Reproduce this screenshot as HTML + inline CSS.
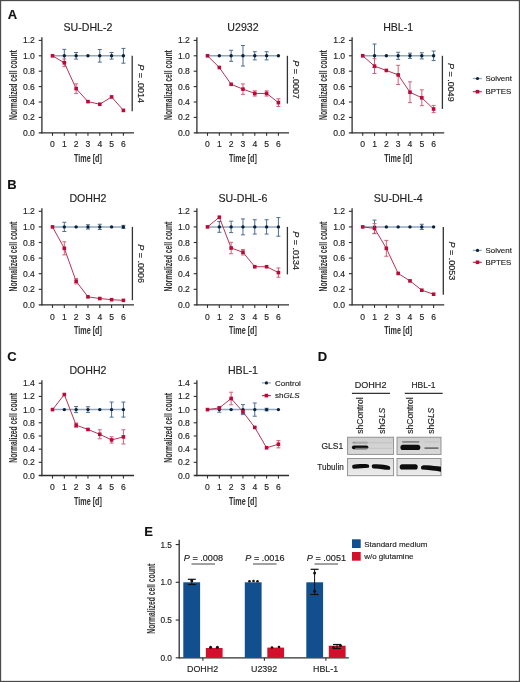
<!DOCTYPE html>
<html><head><meta charset="utf-8"><style>
html,body{margin:0;padding:0;background:#fff;}
body{width:520px;height:682px;overflow:hidden;font-family:"Liberation Sans",sans-serif;}
svg{display:block;will-change:transform;}
text{stroke:#2a2a2a;stroke-width:0.15px;paint-order:stroke;}
</style></head><body>
<svg width="520" height="682" viewBox="0 0 520 682" font-family="Liberation Sans, sans-serif">
<rect x="0" y="0" width="520" height="682" fill="#fff"/>
<text x="7.7" y="18.5" font-size="13" text-anchor="start" fill="#111" font-weight="bold" >A</text>
<text x="7.2" y="189.4" font-size="13" text-anchor="start" fill="#111" font-weight="bold" >B</text>
<text x="7.2" y="361.1" font-size="13" text-anchor="start" fill="#111" font-weight="bold" >C</text>
<text x="317.8" y="361" font-size="13" text-anchor="start" fill="#111" font-weight="bold" >D</text>
<text x="144.3" y="535.8" font-size="13" text-anchor="start" fill="#111" font-weight="bold" >E</text>
<line x1="41.9" y1="37.3" x2="41.9" y2="133.45" stroke="#2e2e2e" stroke-width="1.3" />
<line x1="38.7" y1="132.8" x2="134.02" y2="132.8" stroke="#2e2e2e" stroke-width="1.3" />
<text x="34.9" y="135.8" font-size="8.6" text-anchor="end" fill="#222" >0.0</text>
<line x1="38.7" y1="117.4" x2="41.9" y2="117.4" stroke="#2e2e2e" stroke-width="1.1" />
<text x="34.9" y="120.4" font-size="8.6" text-anchor="end" fill="#222" >0.2</text>
<line x1="38.7" y1="102" x2="41.9" y2="102" stroke="#2e2e2e" stroke-width="1.1" />
<text x="34.9" y="105" font-size="8.6" text-anchor="end" fill="#222" >0.4</text>
<line x1="38.7" y1="86.6" x2="41.9" y2="86.6" stroke="#2e2e2e" stroke-width="1.1" />
<text x="34.9" y="89.6" font-size="8.6" text-anchor="end" fill="#222" >0.6</text>
<line x1="38.7" y1="71.2" x2="41.9" y2="71.2" stroke="#2e2e2e" stroke-width="1.1" />
<text x="34.9" y="74.2" font-size="8.6" text-anchor="end" fill="#222" >0.8</text>
<line x1="38.7" y1="55.8" x2="41.9" y2="55.8" stroke="#2e2e2e" stroke-width="1.1" />
<text x="34.9" y="58.8" font-size="8.6" text-anchor="end" fill="#222" >1.0</text>
<line x1="38.7" y1="40.4" x2="41.9" y2="40.4" stroke="#2e2e2e" stroke-width="1.1" />
<text x="34.9" y="43.4" font-size="8.6" text-anchor="end" fill="#222" >1.2</text>
<line x1="52.5" y1="132.8" x2="52.5" y2="135.8" stroke="#2e2e2e" stroke-width="1.1" />
<text x="52.5" y="147.4" font-size="8.6" text-anchor="middle" fill="#222" >0</text>
<line x1="64.32" y1="132.8" x2="64.32" y2="135.8" stroke="#2e2e2e" stroke-width="1.1" />
<text x="64.32" y="147.4" font-size="8.6" text-anchor="middle" fill="#222" >1</text>
<line x1="76.14" y1="132.8" x2="76.14" y2="135.8" stroke="#2e2e2e" stroke-width="1.1" />
<text x="76.14" y="147.4" font-size="8.6" text-anchor="middle" fill="#222" >2</text>
<line x1="87.96" y1="132.8" x2="87.96" y2="135.8" stroke="#2e2e2e" stroke-width="1.1" />
<text x="87.96" y="147.4" font-size="8.6" text-anchor="middle" fill="#222" >3</text>
<line x1="99.78" y1="132.8" x2="99.78" y2="135.8" stroke="#2e2e2e" stroke-width="1.1" />
<text x="99.78" y="147.4" font-size="8.6" text-anchor="middle" fill="#222" >4</text>
<line x1="111.6" y1="132.8" x2="111.6" y2="135.8" stroke="#2e2e2e" stroke-width="1.1" />
<text x="111.6" y="147.4" font-size="8.6" text-anchor="middle" fill="#222" >5</text>
<line x1="123.42" y1="132.8" x2="123.42" y2="135.8" stroke="#2e2e2e" stroke-width="1.1" />
<text x="123.42" y="147.4" font-size="8.6" text-anchor="middle" fill="#222" >6</text>
<text transform="translate(87.96,161.9) scale(0.721,1)" font-size="10" font-weight="bold" text-anchor="middle" fill="#333" style="stroke-width:0.05px">Time [d]</text>
<text transform="translate(16.6,85.05) rotate(-90) scale(0.677,1)" font-size="10" font-weight="bold" text-anchor="middle" fill="#333" style="stroke-width:0.05px">Normalized cell count</text>
<text x="87.96" y="31.1" font-size="10.6" text-anchor="middle" fill="#222" >SU-DHL-2</text>
<polyline points="52.5,55.8 64.32,55.8 76.14,55.8 87.96,55.8 99.78,55.8 111.6,55.8 123.42,55.8" fill="none" stroke="#8ea8bf" stroke-width="1.5"/>
<line x1="64.32" y1="49.33" x2="64.32" y2="62.27" stroke="#4a6e92" stroke-width="1" />
<line x1="62.32" y1="49.33" x2="66.32" y2="49.33" stroke="#4a6e92" stroke-width="1" />
<line x1="62.32" y1="62.27" x2="66.32" y2="62.27" stroke="#4a6e92" stroke-width="1" />
<line x1="76.14" y1="52.49" x2="76.14" y2="59.11" stroke="#4a6e92" stroke-width="1" />
<line x1="74.14" y1="52.49" x2="78.14" y2="52.49" stroke="#4a6e92" stroke-width="1" />
<line x1="74.14" y1="59.11" x2="78.14" y2="59.11" stroke="#4a6e92" stroke-width="1" />
<line x1="99.78" y1="49.49" x2="99.78" y2="62.11" stroke="#4a6e92" stroke-width="1" />
<line x1="97.78" y1="49.49" x2="101.78" y2="49.49" stroke="#4a6e92" stroke-width="1" />
<line x1="97.78" y1="62.11" x2="101.78" y2="62.11" stroke="#4a6e92" stroke-width="1" />
<line x1="111.6" y1="52.49" x2="111.6" y2="59.11" stroke="#4a6e92" stroke-width="1" />
<line x1="109.6" y1="52.49" x2="113.6" y2="52.49" stroke="#4a6e92" stroke-width="1" />
<line x1="109.6" y1="59.11" x2="113.6" y2="59.11" stroke="#4a6e92" stroke-width="1" />
<line x1="123.42" y1="48.41" x2="123.42" y2="63.19" stroke="#4a6e92" stroke-width="1" />
<line x1="121.42" y1="48.41" x2="125.42" y2="48.41" stroke="#4a6e92" stroke-width="1" />
<line x1="121.42" y1="63.19" x2="125.42" y2="63.19" stroke="#4a6e92" stroke-width="1" />
<circle cx="64.32" cy="55.8" r="1.7" fill="#0b1f38"/>
<circle cx="76.14" cy="55.8" r="1.7" fill="#0b1f38"/>
<circle cx="87.96" cy="55.8" r="1.7" fill="#0b1f38"/>
<circle cx="99.78" cy="55.8" r="1.7" fill="#0b1f38"/>
<circle cx="111.6" cy="55.8" r="1.7" fill="#0b1f38"/>
<circle cx="123.42" cy="55.8" r="1.7" fill="#0b1f38"/>
<polyline points="52.5,55.8 64.32,62.81 76.14,88.6 87.96,101.62 99.78,104.23 111.6,96.92 123.42,110.39" fill="none" stroke="#b02a4c" stroke-width="0.95"/>
<line x1="64.32" y1="58.96" x2="64.32" y2="66.66" stroke="#d2607a" stroke-width="1" />
<line x1="62.32" y1="58.96" x2="66.32" y2="58.96" stroke="#d2607a" stroke-width="1" />
<line x1="62.32" y1="66.66" x2="66.32" y2="66.66" stroke="#d2607a" stroke-width="1" />
<line x1="76.14" y1="83.83" x2="76.14" y2="93.38" stroke="#d2607a" stroke-width="1" />
<line x1="74.14" y1="83.83" x2="78.14" y2="83.83" stroke="#d2607a" stroke-width="1" />
<line x1="74.14" y1="93.38" x2="78.14" y2="93.38" stroke="#d2607a" stroke-width="1" />
<rect x="50.7" y="54" width="3.6" height="3.6" fill="#bb0a3a"/>
<rect x="62.52" y="61.01" width="3.6" height="3.6" fill="#bb0a3a"/>
<rect x="74.34" y="86.8" width="3.6" height="3.6" fill="#bb0a3a"/>
<rect x="86.16" y="99.82" width="3.6" height="3.6" fill="#bb0a3a"/>
<rect x="97.98" y="102.43" width="3.6" height="3.6" fill="#bb0a3a"/>
<rect x="109.8" y="95.12" width="3.6" height="3.6" fill="#bb0a3a"/>
<rect x="121.62" y="108.59" width="3.6" height="3.6" fill="#bb0a3a"/>
<line x1="132.2" y1="55.8" x2="132.2" y2="111.3" stroke="#333" stroke-width="1.3" />
<text transform="translate(137.8,83.55) rotate(90)" font-size="8.2" text-anchor="middle" fill="#222" textLength="38.7" lengthAdjust="spacingAndGlyphs"><tspan font-style="italic">P</tspan> = .0014</text>
<line x1="196.9" y1="37.3" x2="196.9" y2="133.45" stroke="#2e2e2e" stroke-width="1.3" />
<line x1="193.7" y1="132.8" x2="289.02" y2="132.8" stroke="#2e2e2e" stroke-width="1.3" />
<text x="189.9" y="135.8" font-size="8.6" text-anchor="end" fill="#222" >0.0</text>
<line x1="193.7" y1="117.4" x2="196.9" y2="117.4" stroke="#2e2e2e" stroke-width="1.1" />
<text x="189.9" y="120.4" font-size="8.6" text-anchor="end" fill="#222" >0.2</text>
<line x1="193.7" y1="102" x2="196.9" y2="102" stroke="#2e2e2e" stroke-width="1.1" />
<text x="189.9" y="105" font-size="8.6" text-anchor="end" fill="#222" >0.4</text>
<line x1="193.7" y1="86.6" x2="196.9" y2="86.6" stroke="#2e2e2e" stroke-width="1.1" />
<text x="189.9" y="89.6" font-size="8.6" text-anchor="end" fill="#222" >0.6</text>
<line x1="193.7" y1="71.2" x2="196.9" y2="71.2" stroke="#2e2e2e" stroke-width="1.1" />
<text x="189.9" y="74.2" font-size="8.6" text-anchor="end" fill="#222" >0.8</text>
<line x1="193.7" y1="55.8" x2="196.9" y2="55.8" stroke="#2e2e2e" stroke-width="1.1" />
<text x="189.9" y="58.8" font-size="8.6" text-anchor="end" fill="#222" >1.0</text>
<line x1="193.7" y1="40.4" x2="196.9" y2="40.4" stroke="#2e2e2e" stroke-width="1.1" />
<text x="189.9" y="43.4" font-size="8.6" text-anchor="end" fill="#222" >1.2</text>
<line x1="207.5" y1="132.8" x2="207.5" y2="135.8" stroke="#2e2e2e" stroke-width="1.1" />
<text x="207.5" y="147.4" font-size="8.6" text-anchor="middle" fill="#222" >0</text>
<line x1="219.32" y1="132.8" x2="219.32" y2="135.8" stroke="#2e2e2e" stroke-width="1.1" />
<text x="219.32" y="147.4" font-size="8.6" text-anchor="middle" fill="#222" >1</text>
<line x1="231.14" y1="132.8" x2="231.14" y2="135.8" stroke="#2e2e2e" stroke-width="1.1" />
<text x="231.14" y="147.4" font-size="8.6" text-anchor="middle" fill="#222" >2</text>
<line x1="242.96" y1="132.8" x2="242.96" y2="135.8" stroke="#2e2e2e" stroke-width="1.1" />
<text x="242.96" y="147.4" font-size="8.6" text-anchor="middle" fill="#222" >3</text>
<line x1="254.78" y1="132.8" x2="254.78" y2="135.8" stroke="#2e2e2e" stroke-width="1.1" />
<text x="254.78" y="147.4" font-size="8.6" text-anchor="middle" fill="#222" >4</text>
<line x1="266.6" y1="132.8" x2="266.6" y2="135.8" stroke="#2e2e2e" stroke-width="1.1" />
<text x="266.6" y="147.4" font-size="8.6" text-anchor="middle" fill="#222" >5</text>
<line x1="278.42" y1="132.8" x2="278.42" y2="135.8" stroke="#2e2e2e" stroke-width="1.1" />
<text x="278.42" y="147.4" font-size="8.6" text-anchor="middle" fill="#222" >6</text>
<text transform="translate(242.96,161.9) scale(0.721,1)" font-size="10" font-weight="bold" text-anchor="middle" fill="#333" style="stroke-width:0.05px">Time [d]</text>
<text transform="translate(171.6,85.05) rotate(-90) scale(0.677,1)" font-size="10" font-weight="bold" text-anchor="middle" fill="#333" style="stroke-width:0.05px">Normalized cell count</text>
<text x="242.96" y="31.1" font-size="10.6" text-anchor="middle" fill="#222" >U2932</text>
<polyline points="207.5,55.8 219.32,55.8 231.14,55.8 242.96,55.8 254.78,55.8 266.6,55.8 278.42,55.8" fill="none" stroke="#8ea8bf" stroke-width="1.5"/>
<line x1="231.14" y1="50.26" x2="231.14" y2="61.34" stroke="#4a6e92" stroke-width="1" />
<line x1="229.14" y1="50.26" x2="233.14" y2="50.26" stroke="#4a6e92" stroke-width="1" />
<line x1="229.14" y1="61.34" x2="233.14" y2="61.34" stroke="#4a6e92" stroke-width="1" />
<line x1="242.96" y1="45.56" x2="242.96" y2="66.04" stroke="#4a6e92" stroke-width="1" />
<line x1="240.96" y1="45.56" x2="244.96" y2="45.56" stroke="#4a6e92" stroke-width="1" />
<line x1="240.96" y1="66.04" x2="244.96" y2="66.04" stroke="#4a6e92" stroke-width="1" />
<line x1="254.78" y1="51.72" x2="254.78" y2="59.88" stroke="#4a6e92" stroke-width="1" />
<line x1="252.78" y1="51.72" x2="256.78" y2="51.72" stroke="#4a6e92" stroke-width="1" />
<line x1="252.78" y1="59.88" x2="256.78" y2="59.88" stroke="#4a6e92" stroke-width="1" />
<line x1="266.6" y1="51.72" x2="266.6" y2="59.88" stroke="#4a6e92" stroke-width="1" />
<line x1="264.6" y1="51.72" x2="268.6" y2="51.72" stroke="#4a6e92" stroke-width="1" />
<line x1="264.6" y1="59.88" x2="268.6" y2="59.88" stroke="#4a6e92" stroke-width="1" />
<circle cx="219.32" cy="55.8" r="1.7" fill="#0b1f38"/>
<circle cx="231.14" cy="55.8" r="1.7" fill="#0b1f38"/>
<circle cx="242.96" cy="55.8" r="1.7" fill="#0b1f38"/>
<circle cx="254.78" cy="55.8" r="1.7" fill="#0b1f38"/>
<circle cx="266.6" cy="55.8" r="1.7" fill="#0b1f38"/>
<circle cx="278.42" cy="55.8" r="1.7" fill="#0b1f38"/>
<polyline points="207.5,55.8 219.32,67.5 231.14,84.29 242.96,89.14 254.78,93.45 266.6,93.45 278.42,102.62" fill="none" stroke="#b02a4c" stroke-width="0.95"/>
<line x1="242.96" y1="83.91" x2="242.96" y2="94.38" stroke="#d2607a" stroke-width="1" />
<line x1="240.96" y1="83.91" x2="244.96" y2="83.91" stroke="#d2607a" stroke-width="1" />
<line x1="240.96" y1="94.38" x2="244.96" y2="94.38" stroke="#d2607a" stroke-width="1" />
<line x1="254.78" y1="90.84" x2="254.78" y2="96.07" stroke="#d2607a" stroke-width="1" />
<line x1="252.78" y1="90.84" x2="256.78" y2="90.84" stroke="#d2607a" stroke-width="1" />
<line x1="252.78" y1="96.07" x2="256.78" y2="96.07" stroke="#d2607a" stroke-width="1" />
<line x1="266.6" y1="90.84" x2="266.6" y2="96.07" stroke="#d2607a" stroke-width="1" />
<line x1="264.6" y1="90.84" x2="268.6" y2="90.84" stroke="#d2607a" stroke-width="1" />
<line x1="264.6" y1="96.07" x2="268.6" y2="96.07" stroke="#d2607a" stroke-width="1" />
<line x1="278.42" y1="98.77" x2="278.42" y2="106.47" stroke="#d2607a" stroke-width="1" />
<line x1="276.42" y1="98.77" x2="280.42" y2="98.77" stroke="#d2607a" stroke-width="1" />
<line x1="276.42" y1="106.47" x2="280.42" y2="106.47" stroke="#d2607a" stroke-width="1" />
<rect x="205.7" y="54" width="3.6" height="3.6" fill="#bb0a3a"/>
<rect x="217.52" y="65.7" width="3.6" height="3.6" fill="#bb0a3a"/>
<rect x="229.34" y="82.49" width="3.6" height="3.6" fill="#bb0a3a"/>
<rect x="241.16" y="87.34" width="3.6" height="3.6" fill="#bb0a3a"/>
<rect x="252.98" y="91.65" width="3.6" height="3.6" fill="#bb0a3a"/>
<rect x="264.8" y="91.65" width="3.6" height="3.6" fill="#bb0a3a"/>
<rect x="276.62" y="100.82" width="3.6" height="3.6" fill="#bb0a3a"/>
<line x1="287.4" y1="55.8" x2="287.4" y2="103.6" stroke="#333" stroke-width="1.3" />
<text transform="translate(293,79.7) rotate(90)" font-size="8.2" text-anchor="middle" fill="#222" textLength="38.7" lengthAdjust="spacingAndGlyphs"><tspan font-style="italic">P</tspan> = .0007</text>
<line x1="352.1" y1="37.3" x2="352.1" y2="133.45" stroke="#2e2e2e" stroke-width="1.3" />
<line x1="348.9" y1="132.8" x2="444.22" y2="132.8" stroke="#2e2e2e" stroke-width="1.3" />
<text x="345.1" y="135.8" font-size="8.6" text-anchor="end" fill="#222" >0.0</text>
<line x1="348.9" y1="117.4" x2="352.1" y2="117.4" stroke="#2e2e2e" stroke-width="1.1" />
<text x="345.1" y="120.4" font-size="8.6" text-anchor="end" fill="#222" >0.2</text>
<line x1="348.9" y1="102" x2="352.1" y2="102" stroke="#2e2e2e" stroke-width="1.1" />
<text x="345.1" y="105" font-size="8.6" text-anchor="end" fill="#222" >0.4</text>
<line x1="348.9" y1="86.6" x2="352.1" y2="86.6" stroke="#2e2e2e" stroke-width="1.1" />
<text x="345.1" y="89.6" font-size="8.6" text-anchor="end" fill="#222" >0.6</text>
<line x1="348.9" y1="71.2" x2="352.1" y2="71.2" stroke="#2e2e2e" stroke-width="1.1" />
<text x="345.1" y="74.2" font-size="8.6" text-anchor="end" fill="#222" >0.8</text>
<line x1="348.9" y1="55.8" x2="352.1" y2="55.8" stroke="#2e2e2e" stroke-width="1.1" />
<text x="345.1" y="58.8" font-size="8.6" text-anchor="end" fill="#222" >1.0</text>
<line x1="348.9" y1="40.4" x2="352.1" y2="40.4" stroke="#2e2e2e" stroke-width="1.1" />
<text x="345.1" y="43.4" font-size="8.6" text-anchor="end" fill="#222" >1.2</text>
<line x1="362.7" y1="132.8" x2="362.7" y2="135.8" stroke="#2e2e2e" stroke-width="1.1" />
<text x="362.7" y="147.4" font-size="8.6" text-anchor="middle" fill="#222" >0</text>
<line x1="374.52" y1="132.8" x2="374.52" y2="135.8" stroke="#2e2e2e" stroke-width="1.1" />
<text x="374.52" y="147.4" font-size="8.6" text-anchor="middle" fill="#222" >1</text>
<line x1="386.34" y1="132.8" x2="386.34" y2="135.8" stroke="#2e2e2e" stroke-width="1.1" />
<text x="386.34" y="147.4" font-size="8.6" text-anchor="middle" fill="#222" >2</text>
<line x1="398.16" y1="132.8" x2="398.16" y2="135.8" stroke="#2e2e2e" stroke-width="1.1" />
<text x="398.16" y="147.4" font-size="8.6" text-anchor="middle" fill="#222" >3</text>
<line x1="409.98" y1="132.8" x2="409.98" y2="135.8" stroke="#2e2e2e" stroke-width="1.1" />
<text x="409.98" y="147.4" font-size="8.6" text-anchor="middle" fill="#222" >4</text>
<line x1="421.8" y1="132.8" x2="421.8" y2="135.8" stroke="#2e2e2e" stroke-width="1.1" />
<text x="421.8" y="147.4" font-size="8.6" text-anchor="middle" fill="#222" >5</text>
<line x1="433.62" y1="132.8" x2="433.62" y2="135.8" stroke="#2e2e2e" stroke-width="1.1" />
<text x="433.62" y="147.4" font-size="8.6" text-anchor="middle" fill="#222" >6</text>
<text transform="translate(398.16,161.9) scale(0.721,1)" font-size="10" font-weight="bold" text-anchor="middle" fill="#333" style="stroke-width:0.05px">Time [d]</text>
<text transform="translate(326.8,85.05) rotate(-90) scale(0.677,1)" font-size="10" font-weight="bold" text-anchor="middle" fill="#333" style="stroke-width:0.05px">Normalized cell count</text>
<text x="398.16" y="31.1" font-size="10.6" text-anchor="middle" fill="#222" >HBL-1</text>
<polyline points="362.7,55.8 374.52,55.8 386.34,55.8 398.16,55.8 409.98,55.8 421.8,55.8 433.62,55.8" fill="none" stroke="#8ea8bf" stroke-width="1.5"/>
<line x1="374.52" y1="44.02" x2="374.52" y2="67.58" stroke="#4a6e92" stroke-width="1" />
<line x1="372.52" y1="44.02" x2="376.52" y2="44.02" stroke="#4a6e92" stroke-width="1" />
<line x1="372.52" y1="67.58" x2="376.52" y2="67.58" stroke="#4a6e92" stroke-width="1" />
<line x1="398.16" y1="52.26" x2="398.16" y2="59.34" stroke="#4a6e92" stroke-width="1" />
<line x1="396.16" y1="52.26" x2="400.16" y2="52.26" stroke="#4a6e92" stroke-width="1" />
<line x1="396.16" y1="59.34" x2="400.16" y2="59.34" stroke="#4a6e92" stroke-width="1" />
<line x1="409.98" y1="53.18" x2="409.98" y2="58.42" stroke="#4a6e92" stroke-width="1" />
<line x1="407.98" y1="53.18" x2="411.98" y2="53.18" stroke="#4a6e92" stroke-width="1" />
<line x1="407.98" y1="58.42" x2="411.98" y2="58.42" stroke="#4a6e92" stroke-width="1" />
<line x1="421.8" y1="52.72" x2="421.8" y2="58.88" stroke="#4a6e92" stroke-width="1" />
<line x1="419.8" y1="52.72" x2="423.8" y2="52.72" stroke="#4a6e92" stroke-width="1" />
<line x1="419.8" y1="58.88" x2="423.8" y2="58.88" stroke="#4a6e92" stroke-width="1" />
<line x1="433.62" y1="51.03" x2="433.62" y2="60.57" stroke="#4a6e92" stroke-width="1" />
<line x1="431.62" y1="51.03" x2="435.62" y2="51.03" stroke="#4a6e92" stroke-width="1" />
<line x1="431.62" y1="60.57" x2="435.62" y2="60.57" stroke="#4a6e92" stroke-width="1" />
<circle cx="374.52" cy="55.8" r="1.7" fill="#0b1f38"/>
<circle cx="386.34" cy="55.8" r="1.7" fill="#0b1f38"/>
<circle cx="398.16" cy="55.8" r="1.7" fill="#0b1f38"/>
<circle cx="409.98" cy="55.8" r="1.7" fill="#0b1f38"/>
<circle cx="421.8" cy="55.8" r="1.7" fill="#0b1f38"/>
<circle cx="433.62" cy="55.8" r="1.7" fill="#0b1f38"/>
<polyline points="362.7,55.8 374.52,66.12 386.34,70.43 398.16,74.9 409.98,92.22 421.8,97.77 433.62,109.01" fill="none" stroke="#b02a4c" stroke-width="0.95"/>
<line x1="374.52" y1="58.73" x2="374.52" y2="73.51" stroke="#d2607a" stroke-width="1" />
<line x1="372.52" y1="58.73" x2="376.52" y2="58.73" stroke="#d2607a" stroke-width="1" />
<line x1="372.52" y1="73.51" x2="376.52" y2="73.51" stroke="#d2607a" stroke-width="1" />
<line x1="398.16" y1="65.27" x2="398.16" y2="84.52" stroke="#d2607a" stroke-width="1" />
<line x1="396.16" y1="65.27" x2="400.16" y2="65.27" stroke="#d2607a" stroke-width="1" />
<line x1="396.16" y1="84.52" x2="400.16" y2="84.52" stroke="#d2607a" stroke-width="1" />
<line x1="409.98" y1="81.83" x2="409.98" y2="102.62" stroke="#d2607a" stroke-width="1" />
<line x1="407.98" y1="81.83" x2="411.98" y2="81.83" stroke="#d2607a" stroke-width="1" />
<line x1="407.98" y1="102.62" x2="411.98" y2="102.62" stroke="#d2607a" stroke-width="1" />
<line x1="421.8" y1="89.83" x2="421.8" y2="105.7" stroke="#d2607a" stroke-width="1" />
<line x1="419.8" y1="89.83" x2="423.8" y2="89.83" stroke="#d2607a" stroke-width="1" />
<line x1="419.8" y1="105.7" x2="423.8" y2="105.7" stroke="#d2607a" stroke-width="1" />
<line x1="433.62" y1="105.39" x2="433.62" y2="112.63" stroke="#d2607a" stroke-width="1" />
<line x1="431.62" y1="105.39" x2="435.62" y2="105.39" stroke="#d2607a" stroke-width="1" />
<line x1="431.62" y1="112.63" x2="435.62" y2="112.63" stroke="#d2607a" stroke-width="1" />
<rect x="360.9" y="54" width="3.6" height="3.6" fill="#bb0a3a"/>
<rect x="372.72" y="64.32" width="3.6" height="3.6" fill="#bb0a3a"/>
<rect x="384.54" y="68.63" width="3.6" height="3.6" fill="#bb0a3a"/>
<rect x="396.36" y="73.1" width="3.6" height="3.6" fill="#bb0a3a"/>
<rect x="408.18" y="90.42" width="3.6" height="3.6" fill="#bb0a3a"/>
<rect x="420" y="95.97" width="3.6" height="3.6" fill="#bb0a3a"/>
<rect x="431.82" y="107.21" width="3.6" height="3.6" fill="#bb0a3a"/>
<line x1="442.4" y1="55.8" x2="442.4" y2="108.9" stroke="#333" stroke-width="1.3" />
<text transform="translate(448,82.35) rotate(90)" font-size="8.2" text-anchor="middle" fill="#222" textLength="38.7" lengthAdjust="spacingAndGlyphs"><tspan font-style="italic">P</tspan> = .0049</text>
<line x1="472.8" y1="78.5" x2="481.8" y2="78.5" stroke="#8ea8bf" stroke-width="1.3" />
<circle cx="477.5" cy="78.5" r="1.6" fill="#0b1f38"/>
<line x1="472.8" y1="91.7" x2="481.8" y2="91.7" stroke="#b02a4c" stroke-width="1.1" />
<rect x="475.7" y="89.9" width="3.6" height="3.6" fill="#bb0a3a"/>
<text x="485.5" y="81.2" font-size="7.9" text-anchor="start" fill="#222" >Solvent</text>
<text x="485.5" y="94.4" font-size="7.9" text-anchor="start" fill="#222" >BPTES</text>
<line x1="41.9" y1="208.2" x2="41.9" y2="305.55" stroke="#2e2e2e" stroke-width="1.3" />
<line x1="38.7" y1="304.9" x2="134.02" y2="304.9" stroke="#2e2e2e" stroke-width="1.3" />
<text x="34.9" y="307.9" font-size="8.6" text-anchor="end" fill="#222" >0.0</text>
<line x1="38.7" y1="289.3" x2="41.9" y2="289.3" stroke="#2e2e2e" stroke-width="1.1" />
<text x="34.9" y="292.3" font-size="8.6" text-anchor="end" fill="#222" >0.2</text>
<line x1="38.7" y1="273.7" x2="41.9" y2="273.7" stroke="#2e2e2e" stroke-width="1.1" />
<text x="34.9" y="276.7" font-size="8.6" text-anchor="end" fill="#222" >0.4</text>
<line x1="38.7" y1="258.1" x2="41.9" y2="258.1" stroke="#2e2e2e" stroke-width="1.1" />
<text x="34.9" y="261.1" font-size="8.6" text-anchor="end" fill="#222" >0.6</text>
<line x1="38.7" y1="242.5" x2="41.9" y2="242.5" stroke="#2e2e2e" stroke-width="1.1" />
<text x="34.9" y="245.5" font-size="8.6" text-anchor="end" fill="#222" >0.8</text>
<line x1="38.7" y1="226.9" x2="41.9" y2="226.9" stroke="#2e2e2e" stroke-width="1.1" />
<text x="34.9" y="229.9" font-size="8.6" text-anchor="end" fill="#222" >1.0</text>
<line x1="38.7" y1="211.3" x2="41.9" y2="211.3" stroke="#2e2e2e" stroke-width="1.1" />
<text x="34.9" y="214.3" font-size="8.6" text-anchor="end" fill="#222" >1.2</text>
<line x1="52.5" y1="304.9" x2="52.5" y2="307.9" stroke="#2e2e2e" stroke-width="1.1" />
<text x="52.5" y="319.5" font-size="8.6" text-anchor="middle" fill="#222" >0</text>
<line x1="64.32" y1="304.9" x2="64.32" y2="307.9" stroke="#2e2e2e" stroke-width="1.1" />
<text x="64.32" y="319.5" font-size="8.6" text-anchor="middle" fill="#222" >1</text>
<line x1="76.14" y1="304.9" x2="76.14" y2="307.9" stroke="#2e2e2e" stroke-width="1.1" />
<text x="76.14" y="319.5" font-size="8.6" text-anchor="middle" fill="#222" >2</text>
<line x1="87.96" y1="304.9" x2="87.96" y2="307.9" stroke="#2e2e2e" stroke-width="1.1" />
<text x="87.96" y="319.5" font-size="8.6" text-anchor="middle" fill="#222" >3</text>
<line x1="99.78" y1="304.9" x2="99.78" y2="307.9" stroke="#2e2e2e" stroke-width="1.1" />
<text x="99.78" y="319.5" font-size="8.6" text-anchor="middle" fill="#222" >4</text>
<line x1="111.6" y1="304.9" x2="111.6" y2="307.9" stroke="#2e2e2e" stroke-width="1.1" />
<text x="111.6" y="319.5" font-size="8.6" text-anchor="middle" fill="#222" >5</text>
<line x1="123.42" y1="304.9" x2="123.42" y2="307.9" stroke="#2e2e2e" stroke-width="1.1" />
<text x="123.42" y="319.5" font-size="8.6" text-anchor="middle" fill="#222" >6</text>
<text transform="translate(87.96,334) scale(0.721,1)" font-size="10" font-weight="bold" text-anchor="middle" fill="#333" style="stroke-width:0.05px">Time [d]</text>
<text transform="translate(16.6,256.55) rotate(-90) scale(0.677,1)" font-size="10" font-weight="bold" text-anchor="middle" fill="#333" style="stroke-width:0.05px">Normalized cell count</text>
<text x="87.96" y="202" font-size="10.6" text-anchor="middle" fill="#222" >DOHH2</text>
<polyline points="52.5,226.9 64.32,226.9 76.14,226.9 87.96,226.9 99.78,226.9 111.6,226.9 123.42,226.9" fill="none" stroke="#8ea8bf" stroke-width="1.5"/>
<line x1="64.32" y1="222.28" x2="64.32" y2="231.52" stroke="#4a6e92" stroke-width="1" />
<line x1="62.32" y1="222.28" x2="66.32" y2="222.28" stroke="#4a6e92" stroke-width="1" />
<line x1="62.32" y1="231.52" x2="66.32" y2="231.52" stroke="#4a6e92" stroke-width="1" />
<line x1="87.96" y1="224.74" x2="87.96" y2="229.06" stroke="#4a6e92" stroke-width="1" />
<line x1="85.96" y1="224.74" x2="89.96" y2="224.74" stroke="#4a6e92" stroke-width="1" />
<line x1="85.96" y1="229.06" x2="89.96" y2="229.06" stroke="#4a6e92" stroke-width="1" />
<line x1="99.78" y1="224.28" x2="99.78" y2="229.52" stroke="#4a6e92" stroke-width="1" />
<line x1="97.78" y1="224.28" x2="101.78" y2="224.28" stroke="#4a6e92" stroke-width="1" />
<line x1="97.78" y1="229.52" x2="101.78" y2="229.52" stroke="#4a6e92" stroke-width="1" />
<line x1="123.42" y1="225.36" x2="123.42" y2="228.44" stroke="#4a6e92" stroke-width="1" />
<line x1="121.42" y1="225.36" x2="125.42" y2="225.36" stroke="#4a6e92" stroke-width="1" />
<line x1="121.42" y1="228.44" x2="125.42" y2="228.44" stroke="#4a6e92" stroke-width="1" />
<circle cx="64.32" cy="226.9" r="1.7" fill="#0b1f38"/>
<circle cx="76.14" cy="226.9" r="1.7" fill="#0b1f38"/>
<circle cx="87.96" cy="226.9" r="1.7" fill="#0b1f38"/>
<circle cx="99.78" cy="226.9" r="1.7" fill="#0b1f38"/>
<circle cx="111.6" cy="226.9" r="1.7" fill="#0b1f38"/>
<circle cx="123.42" cy="226.9" r="1.7" fill="#0b1f38"/>
<polyline points="52.5,226.9 64.32,248.33 76.14,281.21 87.96,296.84 99.78,298.53 111.6,299.69 123.42,300.38" fill="none" stroke="#b02a4c" stroke-width="0.95"/>
<line x1="64.32" y1="241.78" x2="64.32" y2="254.87" stroke="#d2607a" stroke-width="1" />
<line x1="62.32" y1="241.78" x2="66.32" y2="241.78" stroke="#d2607a" stroke-width="1" />
<line x1="62.32" y1="254.87" x2="66.32" y2="254.87" stroke="#d2607a" stroke-width="1" />
<line x1="76.14" y1="278.59" x2="76.14" y2="283.83" stroke="#d2607a" stroke-width="1" />
<line x1="74.14" y1="278.59" x2="78.14" y2="278.59" stroke="#d2607a" stroke-width="1" />
<line x1="74.14" y1="283.83" x2="78.14" y2="283.83" stroke="#d2607a" stroke-width="1" />
<rect x="50.7" y="225.1" width="3.6" height="3.6" fill="#bb0a3a"/>
<rect x="62.52" y="246.53" width="3.6" height="3.6" fill="#bb0a3a"/>
<rect x="74.34" y="279.41" width="3.6" height="3.6" fill="#bb0a3a"/>
<rect x="86.16" y="295.04" width="3.6" height="3.6" fill="#bb0a3a"/>
<rect x="97.98" y="296.73" width="3.6" height="3.6" fill="#bb0a3a"/>
<rect x="109.8" y="297.89" width="3.6" height="3.6" fill="#bb0a3a"/>
<rect x="121.62" y="298.58" width="3.6" height="3.6" fill="#bb0a3a"/>
<line x1="132.4" y1="226.9" x2="132.4" y2="300.2" stroke="#333" stroke-width="1.3" />
<text transform="translate(138,263.55) rotate(90)" font-size="8.2" text-anchor="middle" fill="#222" textLength="38.7" lengthAdjust="spacingAndGlyphs"><tspan font-style="italic">P</tspan> = .0006</text>
<line x1="196.9" y1="208.2" x2="196.9" y2="305.55" stroke="#2e2e2e" stroke-width="1.3" />
<line x1="193.7" y1="304.9" x2="289.02" y2="304.9" stroke="#2e2e2e" stroke-width="1.3" />
<text x="189.9" y="307.9" font-size="8.6" text-anchor="end" fill="#222" >0.0</text>
<line x1="193.7" y1="289.3" x2="196.9" y2="289.3" stroke="#2e2e2e" stroke-width="1.1" />
<text x="189.9" y="292.3" font-size="8.6" text-anchor="end" fill="#222" >0.2</text>
<line x1="193.7" y1="273.7" x2="196.9" y2="273.7" stroke="#2e2e2e" stroke-width="1.1" />
<text x="189.9" y="276.7" font-size="8.6" text-anchor="end" fill="#222" >0.4</text>
<line x1="193.7" y1="258.1" x2="196.9" y2="258.1" stroke="#2e2e2e" stroke-width="1.1" />
<text x="189.9" y="261.1" font-size="8.6" text-anchor="end" fill="#222" >0.6</text>
<line x1="193.7" y1="242.5" x2="196.9" y2="242.5" stroke="#2e2e2e" stroke-width="1.1" />
<text x="189.9" y="245.5" font-size="8.6" text-anchor="end" fill="#222" >0.8</text>
<line x1="193.7" y1="226.9" x2="196.9" y2="226.9" stroke="#2e2e2e" stroke-width="1.1" />
<text x="189.9" y="229.9" font-size="8.6" text-anchor="end" fill="#222" >1.0</text>
<line x1="193.7" y1="211.3" x2="196.9" y2="211.3" stroke="#2e2e2e" stroke-width="1.1" />
<text x="189.9" y="214.3" font-size="8.6" text-anchor="end" fill="#222" >1.2</text>
<line x1="207.5" y1="304.9" x2="207.5" y2="307.9" stroke="#2e2e2e" stroke-width="1.1" />
<text x="207.5" y="319.5" font-size="8.6" text-anchor="middle" fill="#222" >0</text>
<line x1="219.32" y1="304.9" x2="219.32" y2="307.9" stroke="#2e2e2e" stroke-width="1.1" />
<text x="219.32" y="319.5" font-size="8.6" text-anchor="middle" fill="#222" >1</text>
<line x1="231.14" y1="304.9" x2="231.14" y2="307.9" stroke="#2e2e2e" stroke-width="1.1" />
<text x="231.14" y="319.5" font-size="8.6" text-anchor="middle" fill="#222" >2</text>
<line x1="242.96" y1="304.9" x2="242.96" y2="307.9" stroke="#2e2e2e" stroke-width="1.1" />
<text x="242.96" y="319.5" font-size="8.6" text-anchor="middle" fill="#222" >3</text>
<line x1="254.78" y1="304.9" x2="254.78" y2="307.9" stroke="#2e2e2e" stroke-width="1.1" />
<text x="254.78" y="319.5" font-size="8.6" text-anchor="middle" fill="#222" >4</text>
<line x1="266.6" y1="304.9" x2="266.6" y2="307.9" stroke="#2e2e2e" stroke-width="1.1" />
<text x="266.6" y="319.5" font-size="8.6" text-anchor="middle" fill="#222" >5</text>
<line x1="278.42" y1="304.9" x2="278.42" y2="307.9" stroke="#2e2e2e" stroke-width="1.1" />
<text x="278.42" y="319.5" font-size="8.6" text-anchor="middle" fill="#222" >6</text>
<text transform="translate(242.96,334) scale(0.721,1)" font-size="10" font-weight="bold" text-anchor="middle" fill="#333" style="stroke-width:0.05px">Time [d]</text>
<text transform="translate(171.6,256.55) rotate(-90) scale(0.677,1)" font-size="10" font-weight="bold" text-anchor="middle" fill="#333" style="stroke-width:0.05px">Normalized cell count</text>
<text x="242.96" y="202" font-size="10.6" text-anchor="middle" fill="#222" >SU-DHL-6</text>
<polyline points="207.5,226.9 219.32,226.9 231.14,226.9 242.96,226.9 254.78,226.9 266.6,226.9 278.42,226.9" fill="none" stroke="#8ea8bf" stroke-width="1.5"/>
<line x1="219.32" y1="221.51" x2="219.32" y2="232.29" stroke="#4a6e92" stroke-width="1" />
<line x1="217.32" y1="221.51" x2="221.32" y2="221.51" stroke="#4a6e92" stroke-width="1" />
<line x1="217.32" y1="232.29" x2="221.32" y2="232.29" stroke="#4a6e92" stroke-width="1" />
<line x1="231.14" y1="221.2" x2="231.14" y2="232.6" stroke="#4a6e92" stroke-width="1" />
<line x1="229.14" y1="221.2" x2="233.14" y2="221.2" stroke="#4a6e92" stroke-width="1" />
<line x1="229.14" y1="232.6" x2="233.14" y2="232.6" stroke="#4a6e92" stroke-width="1" />
<line x1="242.96" y1="218.97" x2="242.96" y2="234.83" stroke="#4a6e92" stroke-width="1" />
<line x1="240.96" y1="218.97" x2="244.96" y2="218.97" stroke="#4a6e92" stroke-width="1" />
<line x1="240.96" y1="234.83" x2="244.96" y2="234.83" stroke="#4a6e92" stroke-width="1" />
<line x1="254.78" y1="219.74" x2="254.78" y2="234.06" stroke="#4a6e92" stroke-width="1" />
<line x1="252.78" y1="219.74" x2="256.78" y2="219.74" stroke="#4a6e92" stroke-width="1" />
<line x1="252.78" y1="234.06" x2="256.78" y2="234.06" stroke="#4a6e92" stroke-width="1" />
<line x1="266.6" y1="219.74" x2="266.6" y2="234.06" stroke="#4a6e92" stroke-width="1" />
<line x1="264.6" y1="219.74" x2="268.6" y2="219.74" stroke="#4a6e92" stroke-width="1" />
<line x1="264.6" y1="234.06" x2="268.6" y2="234.06" stroke="#4a6e92" stroke-width="1" />
<line x1="278.42" y1="217.58" x2="278.42" y2="236.22" stroke="#4a6e92" stroke-width="1" />
<line x1="276.42" y1="217.58" x2="280.42" y2="217.58" stroke="#4a6e92" stroke-width="1" />
<line x1="276.42" y1="236.22" x2="280.42" y2="236.22" stroke="#4a6e92" stroke-width="1" />
<circle cx="219.32" cy="226.9" r="1.7" fill="#0b1f38"/>
<circle cx="231.14" cy="226.9" r="1.7" fill="#0b1f38"/>
<circle cx="242.96" cy="226.9" r="1.7" fill="#0b1f38"/>
<circle cx="254.78" cy="226.9" r="1.7" fill="#0b1f38"/>
<circle cx="266.6" cy="226.9" r="1.7" fill="#0b1f38"/>
<circle cx="278.42" cy="226.9" r="1.7" fill="#0b1f38"/>
<polyline points="207.5,226.9 219.32,217.22 231.14,248.02 242.96,252.26 254.78,266.73 266.6,266.73 278.42,272.58" fill="none" stroke="#b02a4c" stroke-width="0.95"/>
<line x1="231.14" y1="242.32" x2="231.14" y2="253.72" stroke="#d2607a" stroke-width="1" />
<line x1="229.14" y1="242.32" x2="233.14" y2="242.32" stroke="#d2607a" stroke-width="1" />
<line x1="229.14" y1="253.72" x2="233.14" y2="253.72" stroke="#d2607a" stroke-width="1" />
<line x1="242.96" y1="249.56" x2="242.96" y2="254.95" stroke="#d2607a" stroke-width="1" />
<line x1="240.96" y1="249.56" x2="244.96" y2="249.56" stroke="#d2607a" stroke-width="1" />
<line x1="240.96" y1="254.95" x2="244.96" y2="254.95" stroke="#d2607a" stroke-width="1" />
<line x1="278.42" y1="267.96" x2="278.42" y2="277.2" stroke="#d2607a" stroke-width="1" />
<line x1="276.42" y1="267.96" x2="280.42" y2="267.96" stroke="#d2607a" stroke-width="1" />
<line x1="276.42" y1="277.2" x2="280.42" y2="277.2" stroke="#d2607a" stroke-width="1" />
<rect x="205.7" y="225.1" width="3.6" height="3.6" fill="#bb0a3a"/>
<rect x="217.52" y="215.42" width="3.6" height="3.6" fill="#bb0a3a"/>
<rect x="229.34" y="246.22" width="3.6" height="3.6" fill="#bb0a3a"/>
<rect x="241.16" y="250.46" width="3.6" height="3.6" fill="#bb0a3a"/>
<rect x="252.98" y="264.93" width="3.6" height="3.6" fill="#bb0a3a"/>
<rect x="264.8" y="264.93" width="3.6" height="3.6" fill="#bb0a3a"/>
<rect x="276.62" y="270.78" width="3.6" height="3.6" fill="#bb0a3a"/>
<line x1="287.4" y1="226.9" x2="287.4" y2="274.4" stroke="#333" stroke-width="1.3" />
<text transform="translate(293,250.65) rotate(90)" font-size="8.2" text-anchor="middle" fill="#222" textLength="38.7" lengthAdjust="spacingAndGlyphs"><tspan font-style="italic">P</tspan> = .0134</text>
<line x1="352.1" y1="208.2" x2="352.1" y2="305.55" stroke="#2e2e2e" stroke-width="1.3" />
<line x1="348.9" y1="304.9" x2="444.22" y2="304.9" stroke="#2e2e2e" stroke-width="1.3" />
<text x="345.1" y="307.9" font-size="8.6" text-anchor="end" fill="#222" >0.0</text>
<line x1="348.9" y1="289.3" x2="352.1" y2="289.3" stroke="#2e2e2e" stroke-width="1.1" />
<text x="345.1" y="292.3" font-size="8.6" text-anchor="end" fill="#222" >0.2</text>
<line x1="348.9" y1="273.7" x2="352.1" y2="273.7" stroke="#2e2e2e" stroke-width="1.1" />
<text x="345.1" y="276.7" font-size="8.6" text-anchor="end" fill="#222" >0.4</text>
<line x1="348.9" y1="258.1" x2="352.1" y2="258.1" stroke="#2e2e2e" stroke-width="1.1" />
<text x="345.1" y="261.1" font-size="8.6" text-anchor="end" fill="#222" >0.6</text>
<line x1="348.9" y1="242.5" x2="352.1" y2="242.5" stroke="#2e2e2e" stroke-width="1.1" />
<text x="345.1" y="245.5" font-size="8.6" text-anchor="end" fill="#222" >0.8</text>
<line x1="348.9" y1="226.9" x2="352.1" y2="226.9" stroke="#2e2e2e" stroke-width="1.1" />
<text x="345.1" y="229.9" font-size="8.6" text-anchor="end" fill="#222" >1.0</text>
<line x1="348.9" y1="211.3" x2="352.1" y2="211.3" stroke="#2e2e2e" stroke-width="1.1" />
<text x="345.1" y="214.3" font-size="8.6" text-anchor="end" fill="#222" >1.2</text>
<line x1="362.7" y1="304.9" x2="362.7" y2="307.9" stroke="#2e2e2e" stroke-width="1.1" />
<text x="362.7" y="319.5" font-size="8.6" text-anchor="middle" fill="#222" >0</text>
<line x1="374.52" y1="304.9" x2="374.52" y2="307.9" stroke="#2e2e2e" stroke-width="1.1" />
<text x="374.52" y="319.5" font-size="8.6" text-anchor="middle" fill="#222" >1</text>
<line x1="386.34" y1="304.9" x2="386.34" y2="307.9" stroke="#2e2e2e" stroke-width="1.1" />
<text x="386.34" y="319.5" font-size="8.6" text-anchor="middle" fill="#222" >2</text>
<line x1="398.16" y1="304.9" x2="398.16" y2="307.9" stroke="#2e2e2e" stroke-width="1.1" />
<text x="398.16" y="319.5" font-size="8.6" text-anchor="middle" fill="#222" >3</text>
<line x1="409.98" y1="304.9" x2="409.98" y2="307.9" stroke="#2e2e2e" stroke-width="1.1" />
<text x="409.98" y="319.5" font-size="8.6" text-anchor="middle" fill="#222" >4</text>
<line x1="421.8" y1="304.9" x2="421.8" y2="307.9" stroke="#2e2e2e" stroke-width="1.1" />
<text x="421.8" y="319.5" font-size="8.6" text-anchor="middle" fill="#222" >5</text>
<line x1="433.62" y1="304.9" x2="433.62" y2="307.9" stroke="#2e2e2e" stroke-width="1.1" />
<text x="433.62" y="319.5" font-size="8.6" text-anchor="middle" fill="#222" >6</text>
<text transform="translate(398.16,334) scale(0.721,1)" font-size="10" font-weight="bold" text-anchor="middle" fill="#333" style="stroke-width:0.05px">Time [d]</text>
<text transform="translate(326.8,256.55) rotate(-90) scale(0.677,1)" font-size="10" font-weight="bold" text-anchor="middle" fill="#333" style="stroke-width:0.05px">Normalized cell count</text>
<text x="398.16" y="202" font-size="10.6" text-anchor="middle" fill="#222" >SU-DHL-4</text>
<polyline points="362.7,226.9 374.52,226.9 386.34,226.9 398.16,226.9 409.98,226.9 421.8,226.9 433.62,226.9" fill="none" stroke="#8ea8bf" stroke-width="1.5"/>
<line x1="374.52" y1="220.12" x2="374.52" y2="233.68" stroke="#4a6e92" stroke-width="1" />
<line x1="372.52" y1="220.12" x2="376.52" y2="220.12" stroke="#4a6e92" stroke-width="1" />
<line x1="372.52" y1="233.68" x2="376.52" y2="233.68" stroke="#4a6e92" stroke-width="1" />
<line x1="421.8" y1="224.28" x2="421.8" y2="229.52" stroke="#4a6e92" stroke-width="1" />
<line x1="419.8" y1="224.28" x2="423.8" y2="224.28" stroke="#4a6e92" stroke-width="1" />
<line x1="419.8" y1="229.52" x2="423.8" y2="229.52" stroke="#4a6e92" stroke-width="1" />
<circle cx="374.52" cy="226.9" r="1.7" fill="#0b1f38"/>
<circle cx="386.34" cy="226.9" r="1.7" fill="#0b1f38"/>
<circle cx="398.16" cy="226.9" r="1.7" fill="#0b1f38"/>
<circle cx="409.98" cy="226.9" r="1.7" fill="#0b1f38"/>
<circle cx="421.8" cy="226.9" r="1.7" fill="#0b1f38"/>
<circle cx="433.62" cy="226.9" r="1.7" fill="#0b1f38"/>
<polyline points="362.7,226.9 374.52,228.39 386.34,248.33 398.16,273.43 409.98,280.9 421.8,290.22 433.62,294.22" fill="none" stroke="#b02a4c" stroke-width="0.95"/>
<line x1="374.52" y1="223.61" x2="374.52" y2="233.16" stroke="#d2607a" stroke-width="1" />
<line x1="372.52" y1="223.61" x2="376.52" y2="223.61" stroke="#d2607a" stroke-width="1" />
<line x1="372.52" y1="233.16" x2="376.52" y2="233.16" stroke="#d2607a" stroke-width="1" />
<line x1="386.34" y1="240.4" x2="386.34" y2="256.26" stroke="#d2607a" stroke-width="1" />
<line x1="384.34" y1="240.4" x2="388.34" y2="240.4" stroke="#d2607a" stroke-width="1" />
<line x1="384.34" y1="256.26" x2="388.34" y2="256.26" stroke="#d2607a" stroke-width="1" />
<rect x="360.9" y="225.1" width="3.6" height="3.6" fill="#bb0a3a"/>
<rect x="372.72" y="226.59" width="3.6" height="3.6" fill="#bb0a3a"/>
<rect x="384.54" y="246.53" width="3.6" height="3.6" fill="#bb0a3a"/>
<rect x="396.36" y="271.63" width="3.6" height="3.6" fill="#bb0a3a"/>
<rect x="408.18" y="279.1" width="3.6" height="3.6" fill="#bb0a3a"/>
<rect x="420" y="288.42" width="3.6" height="3.6" fill="#bb0a3a"/>
<rect x="431.82" y="292.42" width="3.6" height="3.6" fill="#bb0a3a"/>
<line x1="443.3" y1="226.9" x2="443.3" y2="294.8" stroke="#333" stroke-width="1.3" />
<text transform="translate(448.9,260.85) rotate(90)" font-size="8.2" text-anchor="middle" fill="#222" textLength="38.7" lengthAdjust="spacingAndGlyphs"><tspan font-style="italic">P</tspan> = .0053</text>
<line x1="472.8" y1="250.4" x2="481.8" y2="250.4" stroke="#8ea8bf" stroke-width="1.3" />
<circle cx="477.5" cy="250.4" r="1.6" fill="#0b1f38"/>
<line x1="472.8" y1="262.3" x2="481.8" y2="262.3" stroke="#b02a4c" stroke-width="1.1" />
<rect x="475.7" y="260.5" width="3.6" height="3.6" fill="#bb0a3a"/>
<text x="485.5" y="253.1" font-size="7.9" text-anchor="start" fill="#222" >Solvent</text>
<text x="485.5" y="265" font-size="7.9" text-anchor="start" fill="#222" >BPTES</text>
<line x1="41.9" y1="380.14" x2="41.9" y2="476.15" stroke="#2e2e2e" stroke-width="1.3" />
<line x1="38.7" y1="475.5" x2="134.02" y2="475.5" stroke="#2e2e2e" stroke-width="1.3" />
<text x="34.9" y="478.5" font-size="8.6" text-anchor="end" fill="#222" >0.0</text>
<line x1="38.7" y1="462.32" x2="41.9" y2="462.32" stroke="#2e2e2e" stroke-width="1.1" />
<text x="34.9" y="465.32" font-size="8.6" text-anchor="end" fill="#222" >0.2</text>
<line x1="38.7" y1="449.14" x2="41.9" y2="449.14" stroke="#2e2e2e" stroke-width="1.1" />
<text x="34.9" y="452.14" font-size="8.6" text-anchor="end" fill="#222" >0.4</text>
<line x1="38.7" y1="435.96" x2="41.9" y2="435.96" stroke="#2e2e2e" stroke-width="1.1" />
<text x="34.9" y="438.96" font-size="8.6" text-anchor="end" fill="#222" >0.6</text>
<line x1="38.7" y1="422.78" x2="41.9" y2="422.78" stroke="#2e2e2e" stroke-width="1.1" />
<text x="34.9" y="425.78" font-size="8.6" text-anchor="end" fill="#222" >0.8</text>
<line x1="38.7" y1="409.6" x2="41.9" y2="409.6" stroke="#2e2e2e" stroke-width="1.1" />
<text x="34.9" y="412.6" font-size="8.6" text-anchor="end" fill="#222" >1.0</text>
<line x1="38.7" y1="396.42" x2="41.9" y2="396.42" stroke="#2e2e2e" stroke-width="1.1" />
<text x="34.9" y="399.42" font-size="8.6" text-anchor="end" fill="#222" >1.2</text>
<line x1="38.7" y1="383.24" x2="41.9" y2="383.24" stroke="#2e2e2e" stroke-width="1.1" />
<text x="34.9" y="386.24" font-size="8.6" text-anchor="end" fill="#222" >1.4</text>
<line x1="52.5" y1="475.5" x2="52.5" y2="478.5" stroke="#2e2e2e" stroke-width="1.1" />
<text x="52.5" y="490.1" font-size="8.6" text-anchor="middle" fill="#222" >0</text>
<line x1="64.32" y1="475.5" x2="64.32" y2="478.5" stroke="#2e2e2e" stroke-width="1.1" />
<text x="64.32" y="490.1" font-size="8.6" text-anchor="middle" fill="#222" >1</text>
<line x1="76.14" y1="475.5" x2="76.14" y2="478.5" stroke="#2e2e2e" stroke-width="1.1" />
<text x="76.14" y="490.1" font-size="8.6" text-anchor="middle" fill="#222" >2</text>
<line x1="87.96" y1="475.5" x2="87.96" y2="478.5" stroke="#2e2e2e" stroke-width="1.1" />
<text x="87.96" y="490.1" font-size="8.6" text-anchor="middle" fill="#222" >3</text>
<line x1="99.78" y1="475.5" x2="99.78" y2="478.5" stroke="#2e2e2e" stroke-width="1.1" />
<text x="99.78" y="490.1" font-size="8.6" text-anchor="middle" fill="#222" >4</text>
<line x1="111.6" y1="475.5" x2="111.6" y2="478.5" stroke="#2e2e2e" stroke-width="1.1" />
<text x="111.6" y="490.1" font-size="8.6" text-anchor="middle" fill="#222" >5</text>
<line x1="123.42" y1="475.5" x2="123.42" y2="478.5" stroke="#2e2e2e" stroke-width="1.1" />
<text x="123.42" y="490.1" font-size="8.6" text-anchor="middle" fill="#222" >6</text>
<text transform="translate(87.96,504.6) scale(0.721,1)" font-size="10" font-weight="bold" text-anchor="middle" fill="#333" style="stroke-width:0.05px">Time [d]</text>
<text transform="translate(16.6,427.82) rotate(-90) scale(0.677,1)" font-size="10" font-weight="bold" text-anchor="middle" fill="#333" style="stroke-width:0.05px">Normalized cell count</text>
<text x="87.96" y="373.94" font-size="10.6" text-anchor="middle" fill="#222" >DOHH2</text>
<polyline points="52.5,409.6 64.32,409.6 76.14,409.6 87.96,409.6 99.78,409.6 111.6,409.6 123.42,409.6" fill="none" stroke="#8ea8bf" stroke-width="1.5"/>
<line x1="76.14" y1="406.56" x2="76.14" y2="412.64" stroke="#4a6e92" stroke-width="1" />
<line x1="74.14" y1="406.56" x2="78.14" y2="406.56" stroke="#4a6e92" stroke-width="1" />
<line x1="74.14" y1="412.64" x2="78.14" y2="412.64" stroke="#4a6e92" stroke-width="1" />
<line x1="87.96" y1="406.76" x2="87.96" y2="412.44" stroke="#4a6e92" stroke-width="1" />
<line x1="85.96" y1="406.76" x2="89.96" y2="406.76" stroke="#4a6e92" stroke-width="1" />
<line x1="85.96" y1="412.44" x2="89.96" y2="412.44" stroke="#4a6e92" stroke-width="1" />
<line x1="111.6" y1="402.07" x2="111.6" y2="417.13" stroke="#4a6e92" stroke-width="1" />
<line x1="109.6" y1="402.07" x2="113.6" y2="402.07" stroke="#4a6e92" stroke-width="1" />
<line x1="109.6" y1="417.13" x2="113.6" y2="417.13" stroke="#4a6e92" stroke-width="1" />
<line x1="123.42" y1="402.07" x2="123.42" y2="417.13" stroke="#4a6e92" stroke-width="1" />
<line x1="121.42" y1="402.07" x2="125.42" y2="402.07" stroke="#4a6e92" stroke-width="1" />
<line x1="121.42" y1="417.13" x2="125.42" y2="417.13" stroke="#4a6e92" stroke-width="1" />
<circle cx="64.32" cy="409.6" r="1.7" fill="#0b1f38"/>
<circle cx="76.14" cy="409.6" r="1.7" fill="#0b1f38"/>
<circle cx="87.96" cy="409.6" r="1.7" fill="#0b1f38"/>
<circle cx="99.78" cy="409.6" r="1.7" fill="#0b1f38"/>
<circle cx="111.6" cy="409.6" r="1.7" fill="#0b1f38"/>
<circle cx="123.42" cy="409.6" r="1.7" fill="#0b1f38"/>
<polyline points="52.5,409.6 64.32,394.53 76.14,425.18 87.96,429.48 99.78,434.3 111.6,439.92 123.42,436.88" fill="none" stroke="#b02a4c" stroke-width="0.95"/>
<line x1="76.14" y1="423" x2="76.14" y2="427.36" stroke="#d2607a" stroke-width="1" />
<line x1="74.14" y1="423" x2="78.14" y2="423" stroke="#d2607a" stroke-width="1" />
<line x1="74.14" y1="427.36" x2="78.14" y2="427.36" stroke="#d2607a" stroke-width="1" />
<line x1="99.78" y1="429.81" x2="99.78" y2="438.79" stroke="#d2607a" stroke-width="1" />
<line x1="97.78" y1="429.81" x2="101.78" y2="429.81" stroke="#d2607a" stroke-width="1" />
<line x1="97.78" y1="438.79" x2="101.78" y2="438.79" stroke="#d2607a" stroke-width="1" />
<line x1="111.6" y1="436.75" x2="111.6" y2="443.09" stroke="#d2607a" stroke-width="1" />
<line x1="109.6" y1="436.75" x2="113.6" y2="436.75" stroke="#d2607a" stroke-width="1" />
<line x1="109.6" y1="443.09" x2="113.6" y2="443.09" stroke="#d2607a" stroke-width="1" />
<line x1="123.42" y1="429.81" x2="123.42" y2="443.95" stroke="#d2607a" stroke-width="1" />
<line x1="121.42" y1="429.81" x2="125.42" y2="429.81" stroke="#d2607a" stroke-width="1" />
<line x1="121.42" y1="443.95" x2="125.42" y2="443.95" stroke="#d2607a" stroke-width="1" />
<rect x="50.7" y="407.8" width="3.6" height="3.6" fill="#bb0a3a"/>
<rect x="62.52" y="392.73" width="3.6" height="3.6" fill="#bb0a3a"/>
<rect x="74.34" y="423.38" width="3.6" height="3.6" fill="#bb0a3a"/>
<rect x="86.16" y="427.68" width="3.6" height="3.6" fill="#bb0a3a"/>
<rect x="97.98" y="432.5" width="3.6" height="3.6" fill="#bb0a3a"/>
<rect x="109.8" y="438.12" width="3.6" height="3.6" fill="#bb0a3a"/>
<rect x="121.62" y="435.08" width="3.6" height="3.6" fill="#bb0a3a"/>
<line x1="196.9" y1="380.14" x2="196.9" y2="476.15" stroke="#2e2e2e" stroke-width="1.3" />
<line x1="193.7" y1="475.5" x2="289.02" y2="475.5" stroke="#2e2e2e" stroke-width="1.3" />
<text x="189.9" y="478.5" font-size="8.6" text-anchor="end" fill="#222" >0.0</text>
<line x1="193.7" y1="462.32" x2="196.9" y2="462.32" stroke="#2e2e2e" stroke-width="1.1" />
<text x="189.9" y="465.32" font-size="8.6" text-anchor="end" fill="#222" >0.2</text>
<line x1="193.7" y1="449.14" x2="196.9" y2="449.14" stroke="#2e2e2e" stroke-width="1.1" />
<text x="189.9" y="452.14" font-size="8.6" text-anchor="end" fill="#222" >0.4</text>
<line x1="193.7" y1="435.96" x2="196.9" y2="435.96" stroke="#2e2e2e" stroke-width="1.1" />
<text x="189.9" y="438.96" font-size="8.6" text-anchor="end" fill="#222" >0.6</text>
<line x1="193.7" y1="422.78" x2="196.9" y2="422.78" stroke="#2e2e2e" stroke-width="1.1" />
<text x="189.9" y="425.78" font-size="8.6" text-anchor="end" fill="#222" >0.8</text>
<line x1="193.7" y1="409.6" x2="196.9" y2="409.6" stroke="#2e2e2e" stroke-width="1.1" />
<text x="189.9" y="412.6" font-size="8.6" text-anchor="end" fill="#222" >1.0</text>
<line x1="193.7" y1="396.42" x2="196.9" y2="396.42" stroke="#2e2e2e" stroke-width="1.1" />
<text x="189.9" y="399.42" font-size="8.6" text-anchor="end" fill="#222" >1.2</text>
<line x1="193.7" y1="383.24" x2="196.9" y2="383.24" stroke="#2e2e2e" stroke-width="1.1" />
<text x="189.9" y="386.24" font-size="8.6" text-anchor="end" fill="#222" >1.4</text>
<line x1="207.5" y1="475.5" x2="207.5" y2="478.5" stroke="#2e2e2e" stroke-width="1.1" />
<text x="207.5" y="490.1" font-size="8.6" text-anchor="middle" fill="#222" >0</text>
<line x1="219.32" y1="475.5" x2="219.32" y2="478.5" stroke="#2e2e2e" stroke-width="1.1" />
<text x="219.32" y="490.1" font-size="8.6" text-anchor="middle" fill="#222" >1</text>
<line x1="231.14" y1="475.5" x2="231.14" y2="478.5" stroke="#2e2e2e" stroke-width="1.1" />
<text x="231.14" y="490.1" font-size="8.6" text-anchor="middle" fill="#222" >2</text>
<line x1="242.96" y1="475.5" x2="242.96" y2="478.5" stroke="#2e2e2e" stroke-width="1.1" />
<text x="242.96" y="490.1" font-size="8.6" text-anchor="middle" fill="#222" >3</text>
<line x1="254.78" y1="475.5" x2="254.78" y2="478.5" stroke="#2e2e2e" stroke-width="1.1" />
<text x="254.78" y="490.1" font-size="8.6" text-anchor="middle" fill="#222" >4</text>
<line x1="266.6" y1="475.5" x2="266.6" y2="478.5" stroke="#2e2e2e" stroke-width="1.1" />
<text x="266.6" y="490.1" font-size="8.6" text-anchor="middle" fill="#222" >5</text>
<line x1="278.42" y1="475.5" x2="278.42" y2="478.5" stroke="#2e2e2e" stroke-width="1.1" />
<text x="278.42" y="490.1" font-size="8.6" text-anchor="middle" fill="#222" >6</text>
<text transform="translate(242.96,504.6) scale(0.721,1)" font-size="10" font-weight="bold" text-anchor="middle" fill="#333" style="stroke-width:0.05px">Time [d]</text>
<text transform="translate(171.6,427.82) rotate(-90) scale(0.677,1)" font-size="10" font-weight="bold" text-anchor="middle" fill="#333" style="stroke-width:0.05px">Normalized cell count</text>
<text x="242.96" y="373.94" font-size="10.6" text-anchor="middle" fill="#222" >HBL-1</text>
<polyline points="207.5,409.6 219.32,409.6 231.14,409.6 242.96,409.6 254.78,409.6 266.6,409.6 278.42,409.6" fill="none" stroke="#8ea8bf" stroke-width="1.5"/>
<line x1="219.32" y1="406.96" x2="219.32" y2="412.24" stroke="#4a6e92" stroke-width="1" />
<line x1="217.32" y1="406.96" x2="221.32" y2="406.96" stroke="#4a6e92" stroke-width="1" />
<line x1="217.32" y1="412.24" x2="221.32" y2="412.24" stroke="#4a6e92" stroke-width="1" />
<line x1="242.96" y1="404.58" x2="242.96" y2="414.62" stroke="#4a6e92" stroke-width="1" />
<line x1="240.96" y1="404.58" x2="244.96" y2="404.58" stroke="#4a6e92" stroke-width="1" />
<line x1="240.96" y1="414.62" x2="244.96" y2="414.62" stroke="#4a6e92" stroke-width="1" />
<line x1="254.78" y1="402.99" x2="254.78" y2="416.21" stroke="#4a6e92" stroke-width="1" />
<line x1="252.78" y1="402.99" x2="256.78" y2="402.99" stroke="#4a6e92" stroke-width="1" />
<line x1="252.78" y1="416.21" x2="256.78" y2="416.21" stroke="#4a6e92" stroke-width="1" />
<line x1="266.6" y1="408.28" x2="266.6" y2="410.92" stroke="#4a6e92" stroke-width="1" />
<line x1="264.6" y1="408.28" x2="268.6" y2="408.28" stroke="#4a6e92" stroke-width="1" />
<line x1="264.6" y1="410.92" x2="268.6" y2="410.92" stroke="#4a6e92" stroke-width="1" />
<circle cx="219.32" cy="409.6" r="1.7" fill="#0b1f38"/>
<circle cx="231.14" cy="409.6" r="1.7" fill="#0b1f38"/>
<circle cx="242.96" cy="409.6" r="1.7" fill="#0b1f38"/>
<circle cx="254.78" cy="409.6" r="1.7" fill="#0b1f38"/>
<circle cx="266.6" cy="409.6" r="1.7" fill="#0b1f38"/>
<circle cx="278.42" cy="409.6" r="1.7" fill="#0b1f38"/>
<polyline points="207.5,409.6 219.32,407.94 231.14,398.49 242.96,411.9 254.78,427.43 266.6,447.78 278.42,444.21" fill="none" stroke="#b02a4c" stroke-width="0.95"/>
<line x1="231.14" y1="392.21" x2="231.14" y2="404.77" stroke="#d2607a" stroke-width="1" />
<line x1="229.14" y1="392.21" x2="233.14" y2="392.21" stroke="#d2607a" stroke-width="1" />
<line x1="229.14" y1="404.77" x2="233.14" y2="404.77" stroke="#d2607a" stroke-width="1" />
<line x1="242.96" y1="410.58" x2="242.96" y2="413.22" stroke="#d2607a" stroke-width="1" />
<line x1="240.96" y1="410.58" x2="244.96" y2="410.58" stroke="#d2607a" stroke-width="1" />
<line x1="240.96" y1="413.22" x2="244.96" y2="413.22" stroke="#d2607a" stroke-width="1" />
<line x1="278.42" y1="440.58" x2="278.42" y2="447.85" stroke="#d2607a" stroke-width="1" />
<line x1="276.42" y1="440.58" x2="280.42" y2="440.58" stroke="#d2607a" stroke-width="1" />
<line x1="276.42" y1="447.85" x2="280.42" y2="447.85" stroke="#d2607a" stroke-width="1" />
<rect x="205.7" y="407.8" width="3.6" height="3.6" fill="#bb0a3a"/>
<rect x="217.52" y="406.14" width="3.6" height="3.6" fill="#bb0a3a"/>
<rect x="229.34" y="396.69" width="3.6" height="3.6" fill="#bb0a3a"/>
<rect x="241.16" y="410.1" width="3.6" height="3.6" fill="#bb0a3a"/>
<rect x="252.98" y="425.63" width="3.6" height="3.6" fill="#bb0a3a"/>
<rect x="264.8" y="445.98" width="3.6" height="3.6" fill="#bb0a3a"/>
<rect x="276.62" y="442.41" width="3.6" height="3.6" fill="#bb0a3a"/>
<line x1="261.9" y1="382.9" x2="270.9" y2="382.9" stroke="#8ea8bf" stroke-width="1.3" />
<circle cx="266.4" cy="382.9" r="1.6" fill="#0b1f38"/>
<line x1="261.9" y1="395.6" x2="270.9" y2="395.6" stroke="#b02a4c" stroke-width="1.1" />
<rect x="264.59999999999997" y="393.8" width="3.6" height="3.6" fill="#bb0a3a"/>
<text x="275.1" y="385.6" font-size="8" text-anchor="start" fill="#222" >Control</text>
<text x="275.1" y="398.3" font-size="8.0" fill="#222">sh<tspan font-style="italic">GLS</tspan></text>
<text x="370.6" y="387.5" font-size="8.5" text-anchor="middle" fill="#222" textLength="31.7" lengthAdjust="spacingAndGlyphs">DOHH2</text>
<text x="423.5" y="387.5" font-size="8.5" text-anchor="middle" fill="#222" textLength="24.1" lengthAdjust="spacingAndGlyphs">HBL-1</text>
<line x1="351.9" y1="393.3" x2="390" y2="393.3" stroke="#333" stroke-width="1.2" />
<line x1="404.8" y1="393.3" x2="442.7" y2="393.3" stroke="#333" stroke-width="1.2" />
<text transform="translate(363,433.7) rotate(-90)" font-size="8.5" fill="#222">shControl</text>
<text transform="translate(385,433.7) rotate(-90)" font-size="8.5" fill="#222">sh<tspan font-style="italic">GLS</tspan></text>
<text transform="translate(413,433.7) rotate(-90)" font-size="8.5" fill="#222">shControl</text>
<text transform="translate(433.7,433.7) rotate(-90)" font-size="8.5" fill="#222">sh<tspan font-style="italic">GLS</tspan></text>
<text x="343.2" y="448.8" font-size="8.5" text-anchor="end" fill="#222">GLS1</text>
<text x="343.8" y="469.6" font-size="8.2" text-anchor="end" fill="#222">Tubulin</text>
<defs><filter id="bl" x="-20%" y="-80%" width="140%" height="260%"><feGaussianBlur stdDeviation="0.6"/></filter><linearGradient id="g1" x1="0" y1="0" x2="0" y2="1"><stop offset="0" stop-color="#cfcfcf"/><stop offset="1" stop-color="#d8d8d8"/></linearGradient><linearGradient id="g2" x1="0" y1="0" x2="0" y2="1"><stop offset="0" stop-color="#dedede"/><stop offset="1" stop-color="#ebebeb"/></linearGradient></defs>
<rect x="347.6" y="437.2" width="46" height="17.2" fill="url(#g1)" stroke="#8a8a8a" stroke-width="0.9"/>
<rect x="347.6" y="458.5" width="46" height="17.2" fill="url(#g2)" stroke="#8a8a8a" stroke-width="0.9"/>
<rect x="397.0" y="437.2" width="44" height="17.2" fill="url(#g1)" stroke="#8a8a8a" stroke-width="0.9"/>
<rect x="397.0" y="458.5" width="44" height="17.2" fill="url(#g2)" stroke="#8a8a8a" stroke-width="0.9"/>
<rect x="352.4" y="441.75" width="15.6" height="1.7" rx="0.85" fill="#8a8a8a" opacity="0.9" filter="url(#bl)"/>
<rect x="351.9" y="445.6" width="16.5" height="3.6" rx="1.8" fill="#111" opacity="1" filter="url(#bl)"/>
<rect x="355" y="442" width="37" height="1.2" rx="0.6" fill="#bcbcbc" opacity="0.6" filter="url(#bl)"/>
<rect x="355" y="447.7" width="37" height="1.2" rx="0.6" fill="#c0c0c0" opacity="0.6" filter="url(#bl)"/>
<rect x="402" y="440.9" width="17.5" height="1.8" rx="0.9" fill="#808080" opacity="0.9" filter="url(#bl)"/>
<rect x="400.4" y="444.8" width="19.9" height="5.2" rx="2.6" fill="#111" opacity="1" filter="url(#bl)"/>
<rect x="424.3" y="447.25" width="14.4" height="1.7" rx="0.85" fill="#5a5a5a" opacity="0.8" filter="url(#bl)"/>
<rect x="424.3" y="441.2" width="14.7" height="1.2" rx="0.6" fill="#bdbdbd" opacity="0.6" filter="url(#bl)"/>
<path d="M352.2,466.0 C352.2,464.7 354,464.3 357,464.2 C362,464.0 366,464.0 368.3,464.4 C369.5,464.8 369.5,467.5 368.3,467.8 C364,468.3 358,468.5 354,468.8 C352.4,468.9 352.2,467.8 352.2,466.0 Z" fill="#0c0c0c" filter="url(#bl)"/>
<path d="M371.8,465.5 C371.8,464.3 374,464.1 377,464.3 C382,464.6 386,465.1 389,465.9 C390.6,466.5 390.7,469.5 389.3,469.8 C385,469.8 380,468.8 374,468.5 C372.0,468.3 371.8,467.4 371.8,465.5 Z" fill="#0c0c0c" filter="url(#bl)"/>
<rect x="399.7" y="464.3" width="18" height="5.2" rx="2.6" fill="#0a0a0a" opacity="1" filter="url(#bl)"/>
<path d="M421.0,467.2 C421.0,465.6 423,465.1 426,465.2 C432,465.5 437,466.2 441,466.7 L441,471.8 C436,471.0 430,470.0 423,469.6 C421.3,469.4 421.0,468.8 421.0,467.2 Z" fill="#0a0a0a" filter="url(#bl)"/>
<line x1="179.2" y1="539.7" x2="179.2" y2="658.45" stroke="#2e2e2e" stroke-width="1.3" />
<line x1="179.2" y1="657.8" x2="348.8" y2="657.8" stroke="#2e2e2e" stroke-width="1.3" />
<line x1="175.7" y1="657.8" x2="179.2" y2="657.8" stroke="#2e2e2e" stroke-width="1.1" />
<text x="172" y="660.8" font-size="8.3" text-anchor="end" fill="#222" >0.0</text>
<line x1="175.7" y1="620.05" x2="179.2" y2="620.05" stroke="#2e2e2e" stroke-width="1.1" />
<text x="172" y="623.05" font-size="8.3" text-anchor="end" fill="#222" >0.5</text>
<line x1="175.7" y1="582.3" x2="179.2" y2="582.3" stroke="#2e2e2e" stroke-width="1.1" />
<text x="172" y="585.3" font-size="8.3" text-anchor="end" fill="#222" >1.0</text>
<line x1="175.7" y1="544.55" x2="179.2" y2="544.55" stroke="#2e2e2e" stroke-width="1.1" />
<text x="172" y="547.55" font-size="8.3" text-anchor="end" fill="#222" >1.5</text>
<text transform="translate(154.6,598.75) rotate(-90) scale(0.677,1)" font-size="10" font-weight="bold" text-anchor="middle" fill="#333" style="stroke-width:0.05px">Normalized cell count</text>
<rect x="183.3" y="582.3" width="16.8" height="75.5" fill="#114f8e"/>
<rect x="205.8" y="647.98" width="16.8" height="9.81" fill="#d3102c"/>
<line x1="202.9" y1="657.8" x2="202.9" y2="660.8" stroke="#2e2e2e" stroke-width="1.1" />
<text x="202.6" y="672.4" font-size="8.9" text-anchor="middle" fill="#222" >DOHH2</text>
<text x="183.8" y="561.4" font-size="8.7" fill="#222" textLength="39.3" lengthAdjust="spacingAndGlyphs"><tspan font-style="italic">P</tspan> = .0008</text>
<line x1="191.5" y1="564" x2="215" y2="564" stroke="#444" stroke-width="1" />
<rect x="244.8" y="582.3" width="16.8" height="75.5" fill="#114f8e"/>
<rect x="267.3" y="647.61" width="16.8" height="10.19" fill="#d3102c"/>
<line x1="264.4" y1="657.8" x2="264.4" y2="660.8" stroke="#2e2e2e" stroke-width="1.1" />
<text x="264.1" y="672.4" font-size="8.9" text-anchor="middle" fill="#222" >U2392</text>
<text x="245.3" y="561.4" font-size="8.7" fill="#222" textLength="39.3" lengthAdjust="spacingAndGlyphs"><tspan font-style="italic">P</tspan> = .0016</text>
<line x1="253" y1="564" x2="276.5" y2="564" stroke="#444" stroke-width="1" />
<rect x="306.3" y="582.3" width="16.8" height="75.5" fill="#114f8e"/>
<rect x="328.8" y="645.72" width="16.8" height="12.08" fill="#d3102c"/>
<line x1="325.9" y1="657.8" x2="325.9" y2="660.8" stroke="#2e2e2e" stroke-width="1.1" />
<text x="325.6" y="672.4" font-size="8.9" text-anchor="middle" fill="#222" >HBL-1</text>
<text x="306.8" y="561.4" font-size="8.7" fill="#222" textLength="39.3" lengthAdjust="spacingAndGlyphs"><tspan font-style="italic">P</tspan> = .0051</text>
<line x1="314.5" y1="564" x2="338" y2="564" stroke="#444" stroke-width="1" />
<line x1="191.8" y1="579.3" x2="191.8" y2="584.5" stroke="#111" stroke-width="1" />
<line x1="187.8" y1="579.3" x2="195.8" y2="579.3" stroke="#111" stroke-width="1.2" />
<line x1="187.8" y1="584.5" x2="195.8" y2="584.5" stroke="#111" stroke-width="1.2" />
<circle cx="191.8" cy="580.7" r="1.5" fill="#111"/>
<circle cx="249.5" cy="581.3" r="1.3" fill="#111"/>
<circle cx="253.5" cy="581" r="1.3" fill="#111"/>
<circle cx="257.5" cy="581.3" r="1.3" fill="#111"/>
<line x1="314.6" y1="569.3" x2="314.6" y2="594.5" stroke="#111" stroke-width="1" />
<line x1="310.6" y1="569.3" x2="318.6" y2="569.3" stroke="#111" stroke-width="1.2" />
<line x1="310.6" y1="594.5" x2="318.6" y2="594.5" stroke="#111" stroke-width="1.2" />
<circle cx="314.6" cy="573" r="1.5" fill="#111"/>
<circle cx="314.6" cy="591.2" r="1.5" fill="#111"/>
<circle cx="210.6" cy="647.3" r="1.5" fill="#111"/>
<circle cx="217.4" cy="647.3" r="1.5" fill="#111"/>
<circle cx="272" cy="647.5" r="1.3" fill="#111"/>
<circle cx="279" cy="647" r="1.3" fill="#111"/>
<line x1="337" y1="644.5" x2="337" y2="648.5" stroke="#111" stroke-width="1" />
<line x1="333" y1="644.5" x2="341" y2="644.5" stroke="#111" stroke-width="1.2" />
<line x1="333" y1="648.5" x2="341" y2="648.5" stroke="#111" stroke-width="1.2" />
<circle cx="333.5" cy="647.4" r="1.5" fill="#111"/>
<circle cx="340.5" cy="645.5" r="1.5" fill="#111"/>
<rect x="352" y="539.3" width="8.7" height="8.7" fill="#114f8e"/>
<rect x="352" y="552" width="8.7" height="8.7" fill="#d3102c"/>
<text x="364.2" y="546.9" font-size="8" text-anchor="start" fill="#222" >Standard medium</text>
<text x="364.2" y="558.8" font-size="8" text-anchor="start" fill="#222" >w/o glutamine</text>
<rect x="0.55" y="0.55" width="518.9" height="680.9" fill="none" stroke="#4a4a4a" stroke-width="1.2"/>
</svg>
</body></html>
